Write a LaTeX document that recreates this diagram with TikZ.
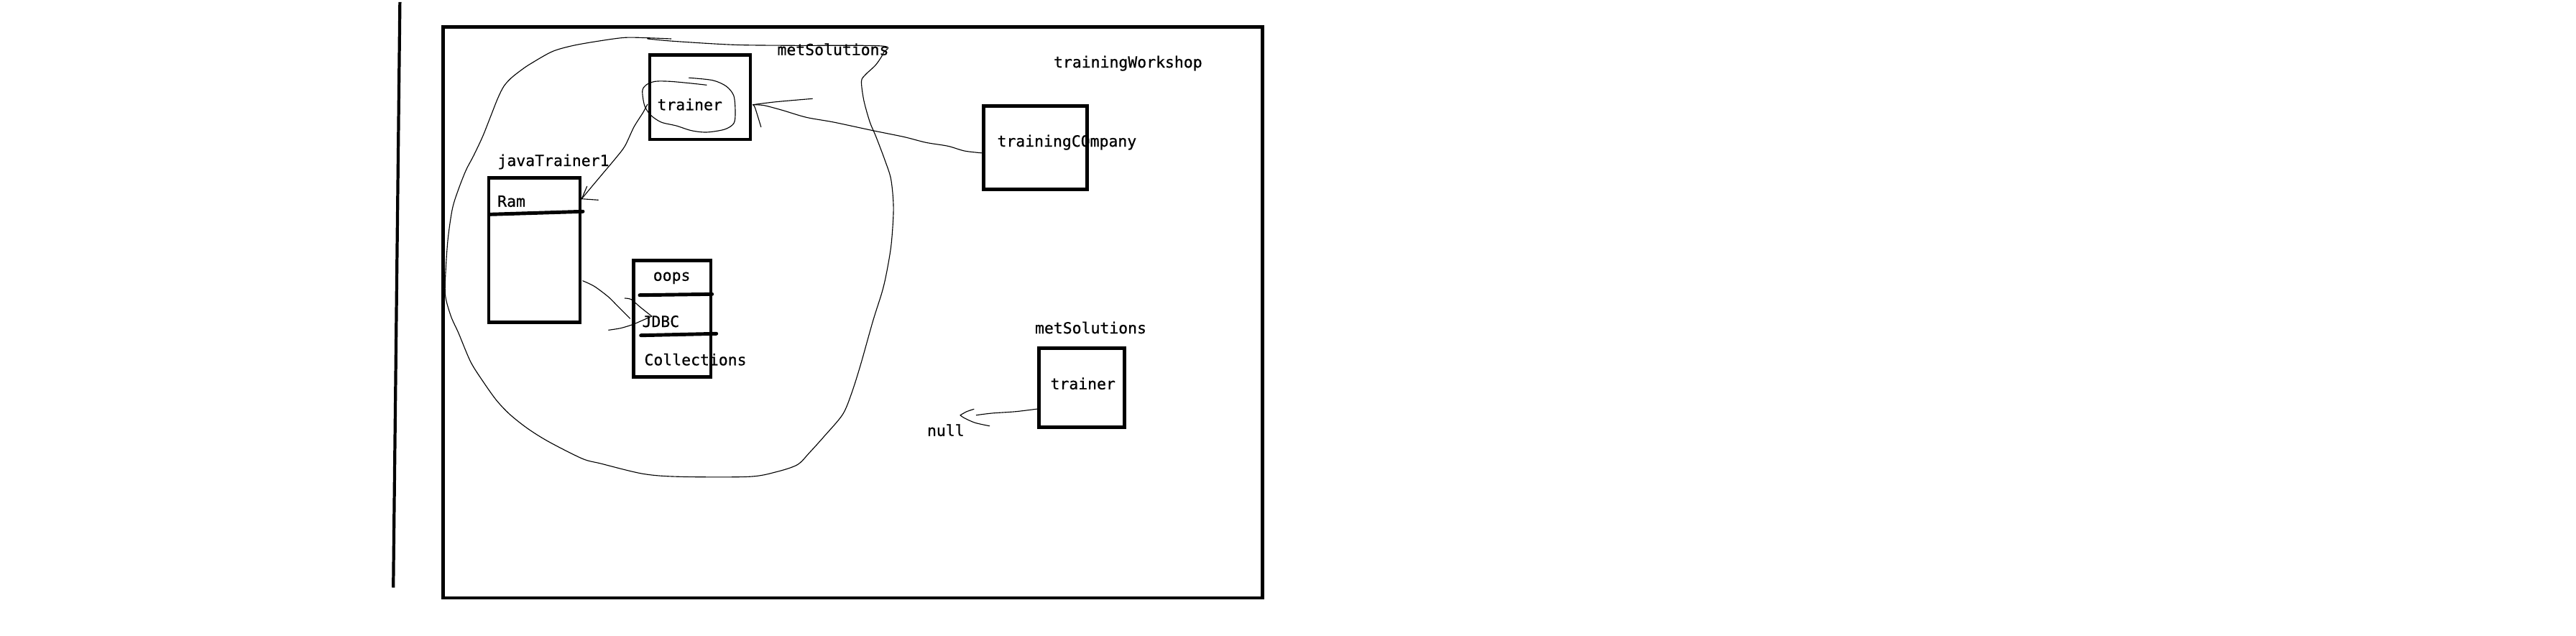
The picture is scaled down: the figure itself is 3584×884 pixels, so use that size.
\documentclass[tikz,border=0pt]{standalone}
\usepackage{fontspec}
\newfontfamily\lblfont{DejaVu Sans Mono}[FakeBold=0.6]
\begin{document}
\begin{tikzpicture}[x=0.01cm,y=-0.01cm,
  objbox/.style={draw, line width=1.34pt, inner sep=0pt, outer sep=0pt, anchor=north west},
  lbl/.style={font=\lblfont\fontsize{6.1pt}{7pt}\selectfont, inner sep=0pt, outer sep=0pt, anchor=base west},
  pen/.style={line width=0.32pt, line join=round, line cap=round},
  bar/.style={line width=1.4pt, line cap=round}]
\useasboundingbox[fill=white] (0,0) rectangle (3584,884);

% left vertical stroke
\coordinate (vtop) at (556.4,2.8);
\coordinate (vbot) at (547.2,817.5);
\draw[line width=1.2pt] (vtop) -- (vbot);

% outer frame (trainingWorkshop)
\node[objbox, minimum width=113.92mm, minimum height=79.43mm] (ws) at (616.8,37.3) {};

% boxes
\node[objbox, minimum width=14.01mm, minimum height=11.73mm] (trA) at (903.9,76.7) {};
\node[objbox, minimum width=14.35mm, minimum height=11.60mm] (tc) at (1368.6,147.3) {};
\node[objbox, minimum width=12.70mm, minimum height=20.10mm] (jt) at (680.0,247.3) {};
\node[objbox, minimum width=10.73mm, minimum height=16.20mm] (ob) at (881.7,362.3) {};
\node[objbox, minimum width=11.86mm, minimum height=11.00mm] (trB) at (1445.7,484.3) {};

% separator bars
\draw[bar] (682.6,298.3) -- (811,294.3);
\draw[bar] (890,410.7) -- (990.7,409.3);
\draw[bar] (891.7,466.7) -- (996.7,464.3);

% labels
\node[lbl] (lmetA) at (1081.5,76.7) {metSolutions};
\node[lbl] (ltw)   at (1466,94)     {trainingWorkshop};
\node[lbl] (ltrA)  at (914.5,153.3) {trainer};
\node[lbl] (ltc)   at (1387.5,204)  {trainingCOmpany};
\node[lbl] (ljt)   at (692.5,231)   {javaTrainer1};
\node[lbl] (lram)  at (692.2,287.7) {Ram};
\node[lbl] (loops) at (908.8,390.7) {oops};
\node[lbl] (ljdbc) at (893.5,455)   {JDBC};
\node[lbl] (lcoll) at (896.5,508.3) {Collections};
\node[lbl] (lmetB) at (1440,464)    {metSolutions};
\node[lbl] (ltrB)  at (1461.5,541.7) {trainer};
\node[lbl] (lnull) at (1290,606.7)  {null};

% big hand-drawn loop (metSolutions object)
\draw[pen] plot[smooth, tension=0.5] coordinates {
 (933.8,54) (900.9,52.7) (869.4,52.3) (835.7,56.7) (797.8,63.3) (768.4,71.7)
 (738.9,88.3) (726.3,96.7) (711.5,108.3) (701,120) (692.6,136.7) (682.1,163.3)
 (671.5,190) (658.9,216.7) (648.4,236.7) (637.9,263.3) (629.5,290) (623.5,330)
 (620.5,370) (619.5,410) (627.4,440) (637.9,463.3) (654.7,503.3) (671.5,530)
 (690.5,556.7) (709.4,576.7) (734.7,596.7) (764.1,615) (810.4,638.3) (835.7,645)
 (894.6,659.3) (945.1,663.3) (1041.9,663.3) (1079.8,656.7) (1109.3,646.7)
 (1126.1,630) (1147.1,606.7) (1172.4,576.7) (1185,546.7) (1197.6,506.7)
 (1214.5,446.7) (1227.1,406.7) (1233.4,380) (1240,340) (1243.1,290)
 (1239.7,250) (1231.3,223.3) (1218.7,190) (1210.3,170) (1201.9,140)
 (1198.5,113.3) (1204,104) (1218.7,90) (1229.2,73.3) (1227.1,64) (1105,63.3)
 (1020.9,62.3) (936.7,57.3) (901,54)};

% circle around "trainer"
\draw[pen] plot[smooth, tension=0.5] coordinates {
 (958.6,108.3) (991.4,111.7) (1010.4,120) (1020.9,133.3) (1023,156.7)
 (1020.9,171.7) (1008.2,180) (983,184) (962,181.7) (940.9,175) (919.9,170)
 (905.1,160) (896.7,146.7) (893.8,126.7) (898.8,118.3) (911.4,113.3)
 (932.5,113.3) (962,116) (983,118.3)};

% connector: trainer -> Ram (javaTrainer1)
\coordinate (c1s) at ([shift={(-3,9.6)}]trA.west);
\coordinate (c1e) at ([shift={(2.2,29.4)}]jt.north east);
\draw[pen] plot[smooth, tension=0.5] coordinates {
 (c1s) (894.6,156.7) (882,176.7) (869.4,203.3) (856.7,220) (839.9,240) (823.1,260) (c1e)};
\draw[pen] (c1e) -- (816.7,259.3);
\draw[pen] (c1e) -- (832.3,278.3);

% connector: trainingCompany -> trainer
\coordinate (c2s) at ([shift={(-3,7.5)}]tc.west);
\coordinate (c2e) at ([shift={(3.4,10.3)}]trA.east);
\draw[pen] plot[smooth, tension=0.5] coordinates {
 (c2s) (1341.8,210) (1318.9,203.3) (1288.3,198.3) (1257.7,190.5) (1214.5,181.7)
 (1159.8,170) (1121.9,163.3) (1088.2,153.3) (1063,146.7) (c2e)};
\draw[pen] plot[smooth, tension=0.5] coordinates {(c2e) (1079.8,141.7) (1130.3,137.3)};
\draw[pen] plot[smooth, tension=0.5] coordinates {(c2e) (1050.5,150) (1058.8,176.7)};

% connector: javaTrainer1 -> JDBC
\coordinate (c3s) at ([shift={(3.7,42.9)}]jt.east);
\coordinate (c3e) at ([shift={(25,-3.3)}]ob.west);
\draw[pen] plot[smooth, tension=0.5] coordinates {
 (c3s) (826.7,398.3) (846.7,413.3) (860,426.7) (876.7,443.3)};
\draw[pen] plot[smooth, tension=0.5] coordinates {
 (869.3,415) (878.3,416.7) (890,426.7) (c3e)};
\draw[pen] plot[smooth, tension=0.5] coordinates {
 (846.7,459.3) (863.3,456.7) (880,451.7) (891.7,446.7) (c3e)};

% connector: trainer (bottom) -> null
\coordinate (c4s) at ([shift={(-2.4,29.7)}]trB.west);
\coordinate (c4e) at ([shift={(46,-29)}]lnull.base west);
\draw[pen] plot[smooth, tension=0.5] coordinates {
 (c4s) (1413.3,572.7) (1380,575) (1358.3,577.7)};
\draw[pen] plot[smooth, tension=0.5] coordinates {(c4e) (1345,572.7) (1355,569.3)};
\draw[pen] plot[smooth, tension=0.5] coordinates {(c4e) (1341.7,581.7) (1356.7,588.3) (1376.7,592.7)};
\end{tikzpicture}
\end{document}
